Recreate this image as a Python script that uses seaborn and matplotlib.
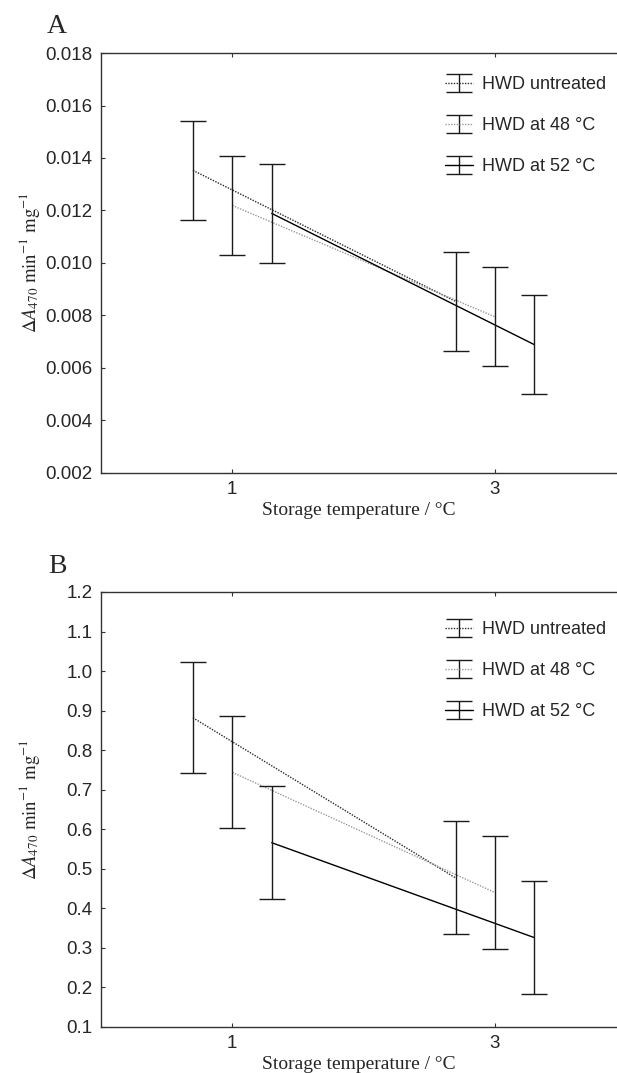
import numpy as np
import pandas as pd
import matplotlib
matplotlib.use('Agg')
from matplotlib import pyplot as plt
import seaborn as sns

## Storage temperatures and treatment names
temperatures = [1, 3]
treatments = ['HWD untreated', 'HWD at 48 °C', 'HWD at 52 °C']

## Panel A values (mean and half error bar)
a_untreated_mean = [0.01353, 0.00854]
a_untreated_err = [0.00188, 0.00189]
a_48_mean = [0.01219, 0.00795]
a_48_err = [0.00189, 0.00189]
a_52_mean = [0.01189, 0.00689]
a_52_err = [0.00190, 0.00189]

## Panel B values (mean and half error bar)
b_untreated_mean = [0.882, 0.477]
b_untreated_err = [0.141, 0.143]
b_48_mean = [0.744, 0.440]
b_48_err = [0.142, 0.142]
b_52_mean = [0.566, 0.326]
b_52_err = [0.143, 0.143]

a_yticks = [0.002, 0.004, 0.006, 0.008, 0.010, 0.012, 0.014, 0.016, 0.018]
b_yticks = [0.1, 0.2, 0.3, 0.4, 0.5, 0.6, 0.7, 0.8, 0.9, 1.0, 1.1, 1.2]

## Styling per treatment
dodge = {treatments[0]: -0.3, treatments[1]: 0.0, treatments[2]: 0.3}
palette = {treatments[0]: '#2a2a2a', treatments[1]: '#9a9a9a', treatments[2]: '#000000'}
dashes = {treatments[0]: (1, 1), treatments[1]: (1, 1), treatments[2]: ''}
line_styles = {treatments[0]: (0, (1, 1)), treatments[1]: (0, (1, 1)), treatments[2]: '-'}
capsize = 9.5


def build_frame(means, errs):
    rows = []
    for name, m, e in zip(treatments, means, errs):
        for t, mv, ev in zip(temperatures, m, e):
            rows.append({'treatment': name, 'temp': t, 'x': t + dodge[name], 'mean': mv, 'err': ev})
    return pd.DataFrame(rows)


def draw_panel(ax, df, yticks, fmt, ylim, legend_y):
    sns.lineplot(data=df, x='x', y='mean', hue='treatment', style='treatment',
                 palette=palette, dashes=dashes, linewidth=1, legend=False, ax=ax)
    for name in treatments:
        sub = df[df['treatment'] == name]
        ax.errorbar(sub['x'], sub['mean'], yerr=sub['err'], fmt='none', ecolor='#1a1a1a',
                    elinewidth=1, capsize=capsize, capthick=1)

    ## Proxy artists for the legend (line + error bar glyph)
    handles = []
    for name in treatments:
        h = ax.errorbar([np.nan], [np.nan], yerr=[np.nan], color=palette[name], ls=line_styles[name],
                        lw=1, ecolor='#1a1a1a', elinewidth=1, capsize=capsize, capthick=1, label=name)
        handles.append(h)
    ax.legend(handles=handles, loc='upper left', bbox_to_anchor=(0.667, legend_y), frameon=False,
              fontsize=13, handlelength=1.55, handletextpad=0.5, labelspacing=1.33,
              borderpad=0, borderaxespad=0)

    ax.set_xlim(0, 3.93)
    ax.set_ylim(*ylim)
    ax.set_xticks(temperatures)
    ax.set_xticklabels([str(t) for t in temperatures])
    ax.set_yticks(yticks)
    ax.set_yticklabels([fmt.format(v) for v in yticks])
    ax.tick_params(direction='in', top=True, right=False, length=3, width=0.8,
                   labelsize=13.5, pad=6, color='#333333')
    ax.spines['right'].set_visible(False)
    for side in ['left', 'top', 'bottom']:
        ax.spines[side].set_linewidth(1)
        ax.spines[side].set_color('#333333')

    ax.set_xlabel('Storage temperature / °C', family='Liberation Serif', fontsize=14, labelpad=3)
    ax.set_ylabel(r'$\Delta A_{\mathit{470}}\ \mathrm{min}^{-1}\ \mathrm{mg}^{-1}$', fontsize=13.5)
    ax.yaxis.set_label_coords(-0.115, 0.5)


def main():
    sns.set_style('ticks')
    plt.rcParams['font.family'] = ['Liberation Sans', 'DejaVu Sans']
    plt.rcParams['mathtext.fontset'] = 'stix'

    df_a = build_frame([a_untreated_mean, a_48_mean, a_52_mean], [a_untreated_err, a_48_err, a_52_err])
    df_b = build_frame([b_untreated_mean, b_48_mean, b_52_mean], [b_untreated_err, b_48_err, b_52_err])

    fig = plt.figure(figsize=(6.17, 10.73), dpi=100)
    ax_a = fig.add_axes([0.1637, 0.5592, 0.8363, 0.3914])
    ax_b = fig.add_axes([0.1637, 0.0429, 0.8363, 0.4054])

    draw_panel(ax_a, df_a, a_yticks, '{:.3f}', (0.002, 0.018), 0.945)
    draw_panel(ax_b, df_b, b_yticks, '{:.1f}', (0.1, 1.2), 0.933)

    fig.text(47 / 617, 1 - 33 / 1073, 'A', family='Liberation Serif', fontsize=20, va='baseline')
    fig.text(48 / 617, 1 - 573 / 1073, 'B', family='Liberation Serif', fontsize=20, va='baseline')

    fig.savefig('out.png', dpi=100)


if __name__ == "__main__":
    main()
